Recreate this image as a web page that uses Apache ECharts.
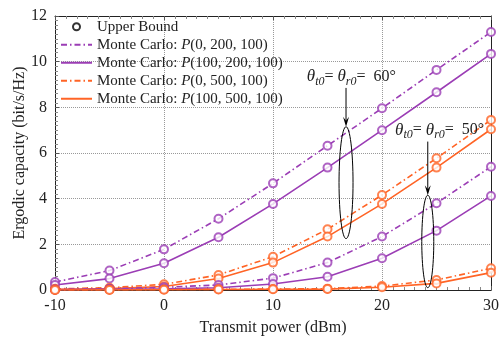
<!DOCTYPE html>
<html>
<head>
<meta charset="utf-8">
<script src="https://cdn.jsdelivr.net/npm/echarts@6/dist/echarts.min.js"></script>
<style>
html,body{margin:0;padding:0;background:#fff;}
#main{width:503px;height:338px;}
</style>
</head>
<body>
<div id="main"></div>
<script>
// transmit power (dBm)
var power = [-10, -5, 0, 5, 10, 15, 20, 25, 30];

// theta = 60 deg
var p0_200_60   = [0.35, 0.85, 1.78, 3.12, 4.67, 6.32, 7.96, 9.64, 11.3];
var p100_200_60 = [0.22, 0.50, 1.17, 2.31, 3.77, 5.36, 7.00, 8.66, 10.34];
var p0_500_60   = [0.05, 0.10, 0.25, 0.66, 1.46, 2.66, 4.16, 5.77, 7.45];
var p100_500_60 = [0.03, 0.06, 0.15, 0.50, 1.20, 2.34, 3.77, 5.36, 7.04];
// theta = 50 deg
var p0_200_50   = [0.02, 0.05, 0.12, 0.22, 0.52, 1.20, 2.34, 3.80, 5.40];
var p100_200_50 = [0.01, 0.03, 0.05, 0.10, 0.26, 0.58, 1.39, 2.60, 4.12];
var p0_500_50   = [0.00, 0.01, 0.02, 0.03, 0.04, 0.06, 0.17, 0.44, 0.95];
var p100_500_50 = [0.00, 0.00, 0.01, 0.02, 0.03, 0.04, 0.12, 0.29, 0.76];

var names = ['Monte Carlo: {i|P}(0, 200, 100)', 'Monte Carlo: {i|P}(100, 200, 100)',
             'Monte Carlo: {i|P}(0, 500, 100)', 'Monte Carlo: {i|P}(100, 500, 100)'];
var legendNames = ['MC1', 'MC2', 'MC3', 'MC4'];

var purple = '#9b3db5';
var orange = '#ff6426';
var dashDot = [6, 3, 1.5, 3];
var serif = 'Liberation Serif';

var groups = [
    {name: 'MC1', data: p0_200_60, color: purple, type: dashDot},
    {name: 'MC2', data: p100_200_60, color: purple, type: 'solid'},
    {name: 'MC3', data: p0_500_60, color: orange, type: dashDot},
    {name: 'MC4', data: p100_500_60, color: orange, type: 'solid'},
    {name: 'MC1', data: p0_200_50, color: purple, type: dashDot},
    {name: 'MC2', data: p100_200_50, color: purple, type: 'solid'},
    {name: 'MC3', data: p0_500_50, color: orange, type: dashDot},
    {name: 'MC4', data: p100_500_50, color: orange, type: 'solid'}
];

function pairs(arr) {
    return power.map(function(x, i) { return [x, arr[i]]; });
}

var series = [];
var ubData = [];
groups.forEach(function(g) {
    series.push({
        name: g.name,
        type: 'line',
        data: pairs(g.data),
        symbol: 'none',
        color: g.color,
        lineStyle: {color: g.color, width: 1.6, type: g.type},
        z: 2
    });
    pairs(g.data).forEach(function(p) {
        ubData.push({value: p, itemStyle: {color: g.color, borderColor: g.color}});
    });
});
series.unshift({
    name: 'Upper Bound',
    type: 'scatter',
    symbol: 'emptyCircle',
    symbolSize: 8,
    itemStyle: {color: '#000', borderColor: '#000', borderWidth: 1.6},
    data: ubData,
    z: 3
});

var chart = echarts.init(document.getElementById('main'));

var legendData = [{name: 'Upper Bound', icon: 'emptyCircle', itemStyle: {borderWidth: 2.2}}];
legendNames.forEach(function(n) {
    legendData.push({name: n, itemStyle: {opacity: 0}});
});

option = {
    animation: false,
    textStyle: {fontFamily: serif},
    grid: {left: 55, right: 12, top: 16, bottom: 48, outerBoundsMode: 'none', containLabel: false},
    legend: {
        data: legendData,
        orient: 'vertical',
        left: 55,
        top: 14,
        itemWidth: 31,
        itemHeight: 7,
        itemGap: 2.5,
        formatter: function(n) {
            var k = legendNames.indexOf(n);
            return k < 0 ? n : names[k];
        },
        textStyle: {
            fontFamily: serif, fontSize: 15, color: '#222', lineHeight: 15.5,
            rich: {i: {fontFamily: serif, fontStyle: 'italic', fontSize: 15, color: '#222'}}
        }
    },
    xAxis: [{
        type: 'value', min: -10, max: 30, interval: 10,
        name: 'Transmit power (dBm)', nameLocation: 'middle', nameGap: 30, nameMoveOverlap: false,
        nameTextStyle: {fontFamily: serif, fontSize: 16, color: '#222'},
        axisLine: {onZero: false, lineStyle: {color: '#222'}},
        axisTick: {inside: true, length: 4, lineStyle: {color: '#555'}},
        minorTick: {show: true, splitNumber: 10, length: 3, lineStyle: {color: '#888'}},
        axisLabel: {fontFamily: serif, fontSize: 16, color: '#222', margin: 8},
        splitLine: {lineStyle: {color: '#999', type: 'dotted'}}
    }, {
        type: 'value', min: -10, max: 30, interval: 10, position: 'top',
        axisLine: {onZero: false, lineStyle: {color: '#222'}},
        axisTick: {inside: true, length: 4, lineStyle: {color: '#555'}},
        minorTick: {show: true, splitNumber: 10, length: 3, lineStyle: {color: '#888'}},
        axisLabel: {show: false}, splitLine: {show: false}
    }],
    yAxis: [{
        type: 'value', min: 0, max: 12, interval: 2,
        name: 'Ergodic capacity (bit/s/Hz)', nameLocation: 'middle', nameGap: 27, nameMoveOverlap: false,
        nameTextStyle: {fontFamily: serif, fontSize: 16, color: '#222'},
        axisLine: {show: true, onZero: false, lineStyle: {color: '#222'}},
        axisTick: {show: true, inside: true, length: 4, lineStyle: {color: '#555'}},
        minorTick: {show: true, splitNumber: 10, length: 3, lineStyle: {color: '#888'}},
        axisLabel: {fontFamily: serif, fontSize: 16, color: '#222', margin: 8},
        splitLine: {lineStyle: {color: '#999', type: 'dotted'}}
    }, {
        type: 'value', min: 0, max: 12, interval: 2, position: 'right',
        axisLine: {show: true, onZero: false, lineStyle: {color: '#222'}},
        axisTick: {show: false}, axisLabel: {show: false}, splitLine: {show: false}
    }],
    series: series
};
chart.setOption(option);

// annotations placed in data coordinates
function px(x, y) { return chart.convertToPixel({xAxisIndex: 0, yAxisIndex: 0}, [x, y]); }

function arrow(x, y1, y2) {
    var a = px(x, y1), b = px(x, y2);
    return [
        {type: 'line', shape: {x1: a[0], y1: a[1], x2: b[0], y2: b[1] - 4}, style: {stroke: '#000', lineWidth: 1}, z: 10},
        {type: 'polygon', shape: {points: [[b[0] - 3, b[1] - 10], [b[0], b[1] - 6], [b[0] + 3, b[1] - 10], [b[0], b[1]]]}, style: {fill: '#000'}, z: 10}
    ];
}

function ellipse(x, yLo, yHi, rx) {
    var t = px(x, yHi), b = px(x, yLo);
    return {type: 'ellipse', shape: {cx: t[0], cy: (t[1] + b[1]) / 2, rx: rx, ry: (b[1] - t[1]) / 2},
            style: {fill: null, stroke: '#000', lineWidth: 1}, z: 10};
}

function label(x, y, deg) {
    var p = px(x, y);
    return {
        type: 'text', x: p[0], y: p[1], z: 10,
        style: {
            text: '{t|θ}{s|t0}{n|= }{t|θ}{s|r0}{n|=  ' + deg + '°}',
            verticalAlign: 'middle',
            rich: {
                t: {fontFamily: serif, fontStyle: 'italic', fontSize: 17, fill: '#222'},
                s: {fontFamily: serif, fontStyle: 'italic', fontSize: 12, fill: '#222', padding: [10, 0, 0, 0]},
                n: {fontFamily: serif, fontSize: 16, fill: '#222'}
            }
        }
    };
}

var g = [];
g.push(label(13.1, 9.35, 60));
g = g.concat(arrow(16.7, 8.85, 7.15));
g.push(ellipse(16.7, 2.25, 7.15, 7));
g.push(label(21.2, 7.0, 50));
g = g.concat(arrow(24.2, 6.5, 4.15));
g.push(ellipse(24.2, 0.1, 4.15, 6));
chart.setOption({graphic: g});
</script>
</body>
</html>
